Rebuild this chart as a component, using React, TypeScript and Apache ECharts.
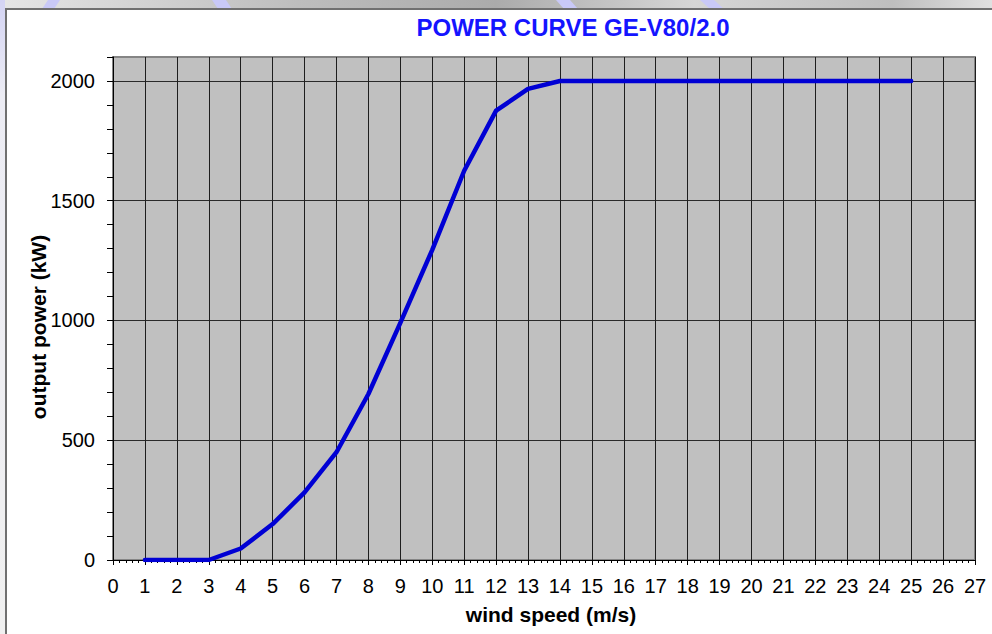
import React, { useEffect, useRef } from "react";
import * as echarts from "echarts";

const titleText = "POWER CURVE GE-V80/2.0";
const xAxisName = "wind speed (m/s)";
const yAxisName = "output power (kW)";
const windSpeed = [1, 2, 3, 4, 5, 6, 7, 8, 9, 10, 11, 12, 13, 14, 15, 16, 17, 18, 19, 20, 21, 22, 23, 24, 25];
const power = [0, 0, 0, 48, 150, 282, 450, 693, 990, 1295, 1625, 1876, 1967, 2000, 2000, 2000, 2000, 2000, 2000, 2000, 2000, 2000, 2000, 2000, 2000];

const FONT = '"Liberation Sans", Arial, sans-serif';

export default function App() {
  const ref = useRef<HTMLDivElement>(null);
  useEffect(() => {
    if (!ref.current) return;
    const chart = echarts.init(ref.current, null, { renderer: "svg" });
    const lavender = "#c9c9f7";
    chart.setOption({
      animation: false,
      backgroundColor: "#ffffff",
      graphic: [
        {
          type: "rect",
          shape: { x: 0, y: 0, width: 992, height: 9 },
          style: {
            fill: new echarts.graphic.LinearGradient(0, 0, 1, 0, [
              { offset: 0, color: "#e6e6e6" },
              { offset: 0.3, color: "#bdbdbd" },
              { offset: 0.5, color: "#ababab" },
              { offset: 0.7, color: "#d6d6d6" },
              { offset: 0.9, color: "#bebebe" },
              { offset: 1, color: "#e0e0e0" },
            ]),
          },
          silent: true,
        },
        { type: "polygon", shape: { points: [[48, 0], [60, 0], [54, 9], [42, 9]] }, style: { fill: lavender } },
        { type: "polygon", shape: { points: [[212, 0], [226, 0], [232, 9], [218, 9]] }, style: { fill: lavender } },
        { type: "polygon", shape: { points: [[556, 0], [570, 0], [578, 9], [564, 9]] }, style: { fill: lavender } },
        { type: "polygon", shape: { points: [[700, 0], [714, 0], [724, 9], [710, 9]] }, style: { fill: lavender } },
        {
          type: "rect",
          shape: { x: 0, y: 0, width: 5, height: 634 },
          style: {
            fill: new echarts.graphic.LinearGradient(0, 0, 0, 1, [
              { offset: 0, color: "#d4d4f4" },
              { offset: 0.15, color: "#ececf4" },
              { offset: 1, color: "#f0f0f0" },
            ]),
          },
          silent: true,
        },
        {
          type: "rect",
          shape: { x: 6, y: 9, width: 1000, height: 640 },
          style: { fill: "none", stroke: "#707070", lineWidth: 2 },
          silent: true,
        },
        {
          type: "text",
          x: 573,
          y: 27,
          style: {
            text: titleText,
            font: `bold 24px ${FONT}`,
            fill: "#1414ff",
            textAlign: "center",
            textVerticalAlign: "middle",
          },
        },
        {
          type: "text",
          x: 551,
          y: 614,
          style: {
            text: xAxisName,
            font: `bold 21px ${FONT}`,
            fill: "#000",
            textAlign: "center",
            textVerticalAlign: "middle",
          },
        },
        {
          type: "text",
          x: 38,
          y: 327,
          rotation: Math.PI / 2,
          style: {
            text: yAxisName,
            font: `bold 21px ${FONT}`,
            fill: "#000",
            textAlign: "center",
            textVerticalAlign: "middle",
          },
        },
      ],
      grid: {
        left: 113,
        right: 17,
        top: 57,
        bottom: 74,
        show: true,
        backgroundColor: "#c0c0c0",
        borderColor: "#858585",
        borderWidth: 2,
        z: 0,
      },
      xAxis: {
        type: "value",
        min: 0,
        max: 27,
        interval: 1,
        axisLine: { show: true, onZero: false, lineStyle: { color: "#000", width: 1 } },
        axisTick: { show: true, length: 5, lineStyle: { color: "#000" } },
        minorTick: { show: true, splitNumber: 5, length: 3, lineStyle: { color: "#000" } },
        axisLabel: { color: "#000", fontSize: 20, fontFamily: FONT, margin: 16 },
        splitLine: { show: true, lineStyle: { color: "#1e1e1e", width: 1 } },
      },
      yAxis: {
        type: "value",
        min: 0,
        max: 2100,
        interval: 100,
        axisLine: { show: true, lineStyle: { color: "#000", width: 1 } },
        axisTick: { show: true, length: 6, lineStyle: { color: "#000" } },
        axisLabel: {
          color: "#000",
          fontSize: 20,
          fontFamily: FONT,
          margin: 18,
          formatter: (v: number) => (v % 500 === 0 ? String(v) : ""),
        },
        splitLine: {
          show: true,
          lineStyle: {
            color: ["#2a2a2a", "rgba(0,0,0,0)", "rgba(0,0,0,0)", "rgba(0,0,0,0)", "rgba(0,0,0,0)"],
            width: 1,
          },
        },
      },
      series: [
        {
          type: "line",
          data: windSpeed.map((w, i) => [w, power[i]]),
          showSymbol: false,
          symbol: "none",
          lineStyle: { color: "#0000d4", width: 4.5, cap: "round", join: "round" },
          z: 5,
        },
      ],
    });
    return () => chart.dispose();
  }, []);
  return (
    <div
      ref={ref}
      style={{ position: "fixed", left: 0, top: 0, width: 992, height: 634 }}
    />
  );
}
